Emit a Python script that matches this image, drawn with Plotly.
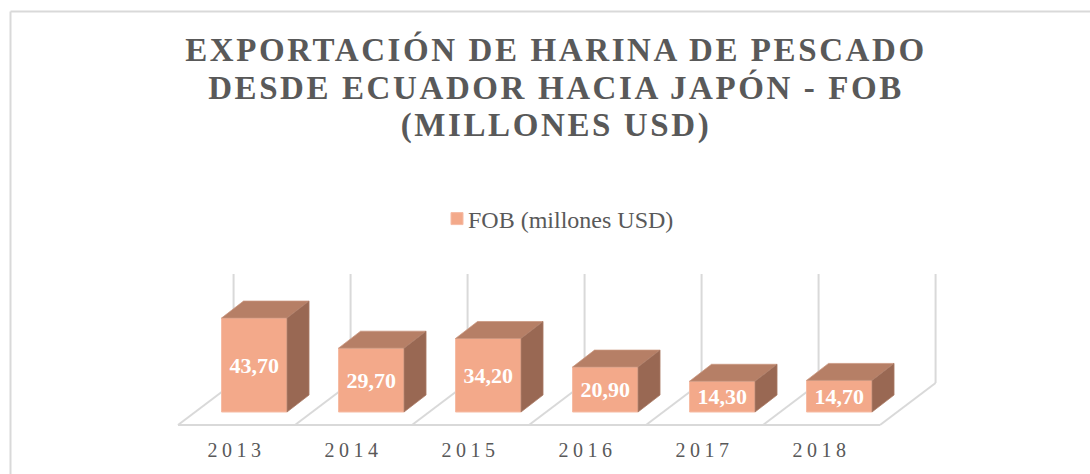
import plotly.graph_objects as go

years = [2013, 2014, 2015, 2016, 2017, 2018]
fob = [43.7, 29.7, 34.2, 20.9, 14.3, 14.7]
title_lines = ["EXPORTACIÓN DE HARINA DE PESCADO", "DESDE ECUADOR HACIA JAPÓN - FOB", "(MILLONES USD)"]
series_name = "FOB (millones USD)"

FRONT = "#F3A98A"
TOP = "#B67F66"
SIDE = "#996853"
GRID = "#D9D9D9"
TEXT = "#595959"
SERIF = "Liberation Serif"

# the "3D" look: offsets in axis units
BAR_OFFSET = -0.128
BAR_WIDTH = 0.56
DEPTH_X = 0.188
DEPTH_Y = 7.9
FLOOR_FRONT = -6.05
FLOOR_BACK = 13.5
WALL_TOP = 64.2
FLOOR_LEFT = -0.5
FLOOR_SHIFT = 0.475

fig = go.Figure()

fig.add_trace(go.Bar(
    name=series_name,
    x=years,
    y=fob,
    offset=BAR_OFFSET,
    width=BAR_WIDTH,
    marker=dict(color=FRONT, line=dict(color="#F6BBA4", width=1)),
    texttemplate="%{y:.2f}",
    textposition="inside",
    textangle=0,
    insidetextanchor="middle",
    constraintext="none",
    insidetextfont=dict(family=SERIF, size=22, color="white", weight="bold"),
))

for year, value in zip(years, fob):
    left = year + BAR_OFFSET
    right = left + BAR_WIDTH
    fig.add_trace(go.Scatter(
        x=[left, right, right + DEPTH_X, left + DEPTH_X, left],
        y=[value, value, value + DEPTH_Y, value + DEPTH_Y, value],
        mode="lines", fill="toself", fillcolor=TOP,
        line=dict(color="#C9957E", width=0.75),
        showlegend=False, hoverinfo="skip",
    ))
    fig.add_trace(go.Scatter(
        x=[right, right + DEPTH_X, right + DEPTH_X, right, right],
        y=[0, DEPTH_Y, value + DEPTH_Y, value, 0],
        mode="lines", fill="toself", fillcolor=SIDE,
        line=dict(color="#AB7B66", width=0.75),
        showlegend=False, hoverinfo="skip",
    ))

# floor and back wall
grid_line = dict(color=GRID, width=2)
first, last = years[0], years[-1]
fig.add_shape(type="line", layer="below", line=grid_line,
              x0=first + FLOOR_LEFT, x1=last + 1 + FLOOR_LEFT, y0=FLOOR_FRONT, y1=FLOOR_FRONT)
for year in years + [last + 1]:
    base = year + FLOOR_LEFT
    fig.add_shape(type="line", layer="below", line=grid_line,
                  x0=base, x1=base + FLOOR_SHIFT, y0=FLOOR_FRONT, y1=FLOOR_BACK)
    fig.add_shape(type="line", layer="below", line=grid_line,
                  x0=base + FLOOR_SHIFT, x1=base + FLOOR_SHIFT, y0=FLOOR_BACK, y1=WALL_TOP)

# chart frame, only the left and top edges are in the picture
frame_line = dict(color=GRID, width=2)
frame_x = (10.5 - 170) / 775
frame_y = (430 - 11.5) / 160
fig.add_shape(type="line", xref="paper", yref="paper", line=frame_line,
              x0=frame_x, x1=frame_x, y0=frame_y, y1=-44 / 160)
fig.add_shape(type="line", xref="paper", yref="paper", line=frame_line,
              x0=frame_x, x1=(1090 - 170) / 775, y0=frame_y, y1=frame_y)

fig.update_layout(
    width=1090,
    height=474,
    autosize=False,
    paper_bgcolor="white",
    plot_bgcolor="rgba(0,0,0,0)",
    separators=",.",
    margin=dict(l=170, r=145, t=270, b=44, autoexpand=False),
    title=dict(
        text="<br>".join(title_lines),
        x=556 / 1090, xanchor="center",
        y=1 - 61 / 474, yanchor="top",
        font=dict(family=SERIF, size=33, color=TEXT, weight="bold"),
    ),
    legend=dict(
        xref="container", yref="container",
        x=437 / 1090, xanchor="left",
        y=1 - 219 / 474, yanchor="middle",
        font=dict(family=SERIF, size=24, color=TEXT),
        bgcolor="rgba(0,0,0,0)",
    ),
    showlegend=True,
    xaxis=dict(
        range=[2013 + (170 - 236.5) / 117, 2013 + (945 - 236.5) / 117],
        tickmode="array", tickvals=years, ticktext=[str(y) for y in years],
        showgrid=False, zeroline=False, showline=False, ticks="",
        tickangle=0,
        tickfont=dict(family=SERIF, size=20, color=TEXT),
        ticklabelstandoff=6,
    ),
    yaxis=dict(
        range=[-18 / 2.15, 142 / 2.15],
        visible=False,
    ),
)

# letter spacing, title leading and the tight legend gap are not layout options
post = """
document.body.style.margin = '0';
document.querySelectorAll('.gtitle').forEach(t => t.style.letterSpacing = '2.6px');
document.querySelectorAll('.gtitle tspan.line').forEach((l, i) => l.setAttribute('dy', (i * 37.5) + 'px'));
document.querySelectorAll('.xtick text').forEach(t => t.style.letterSpacing = '4.5px');
document.querySelectorAll('.legendtext').forEach(t => t.setAttribute('x', '31'));
"""
fig.write_html("out.html", post_script=post, config=dict(displayModeBar=False))
